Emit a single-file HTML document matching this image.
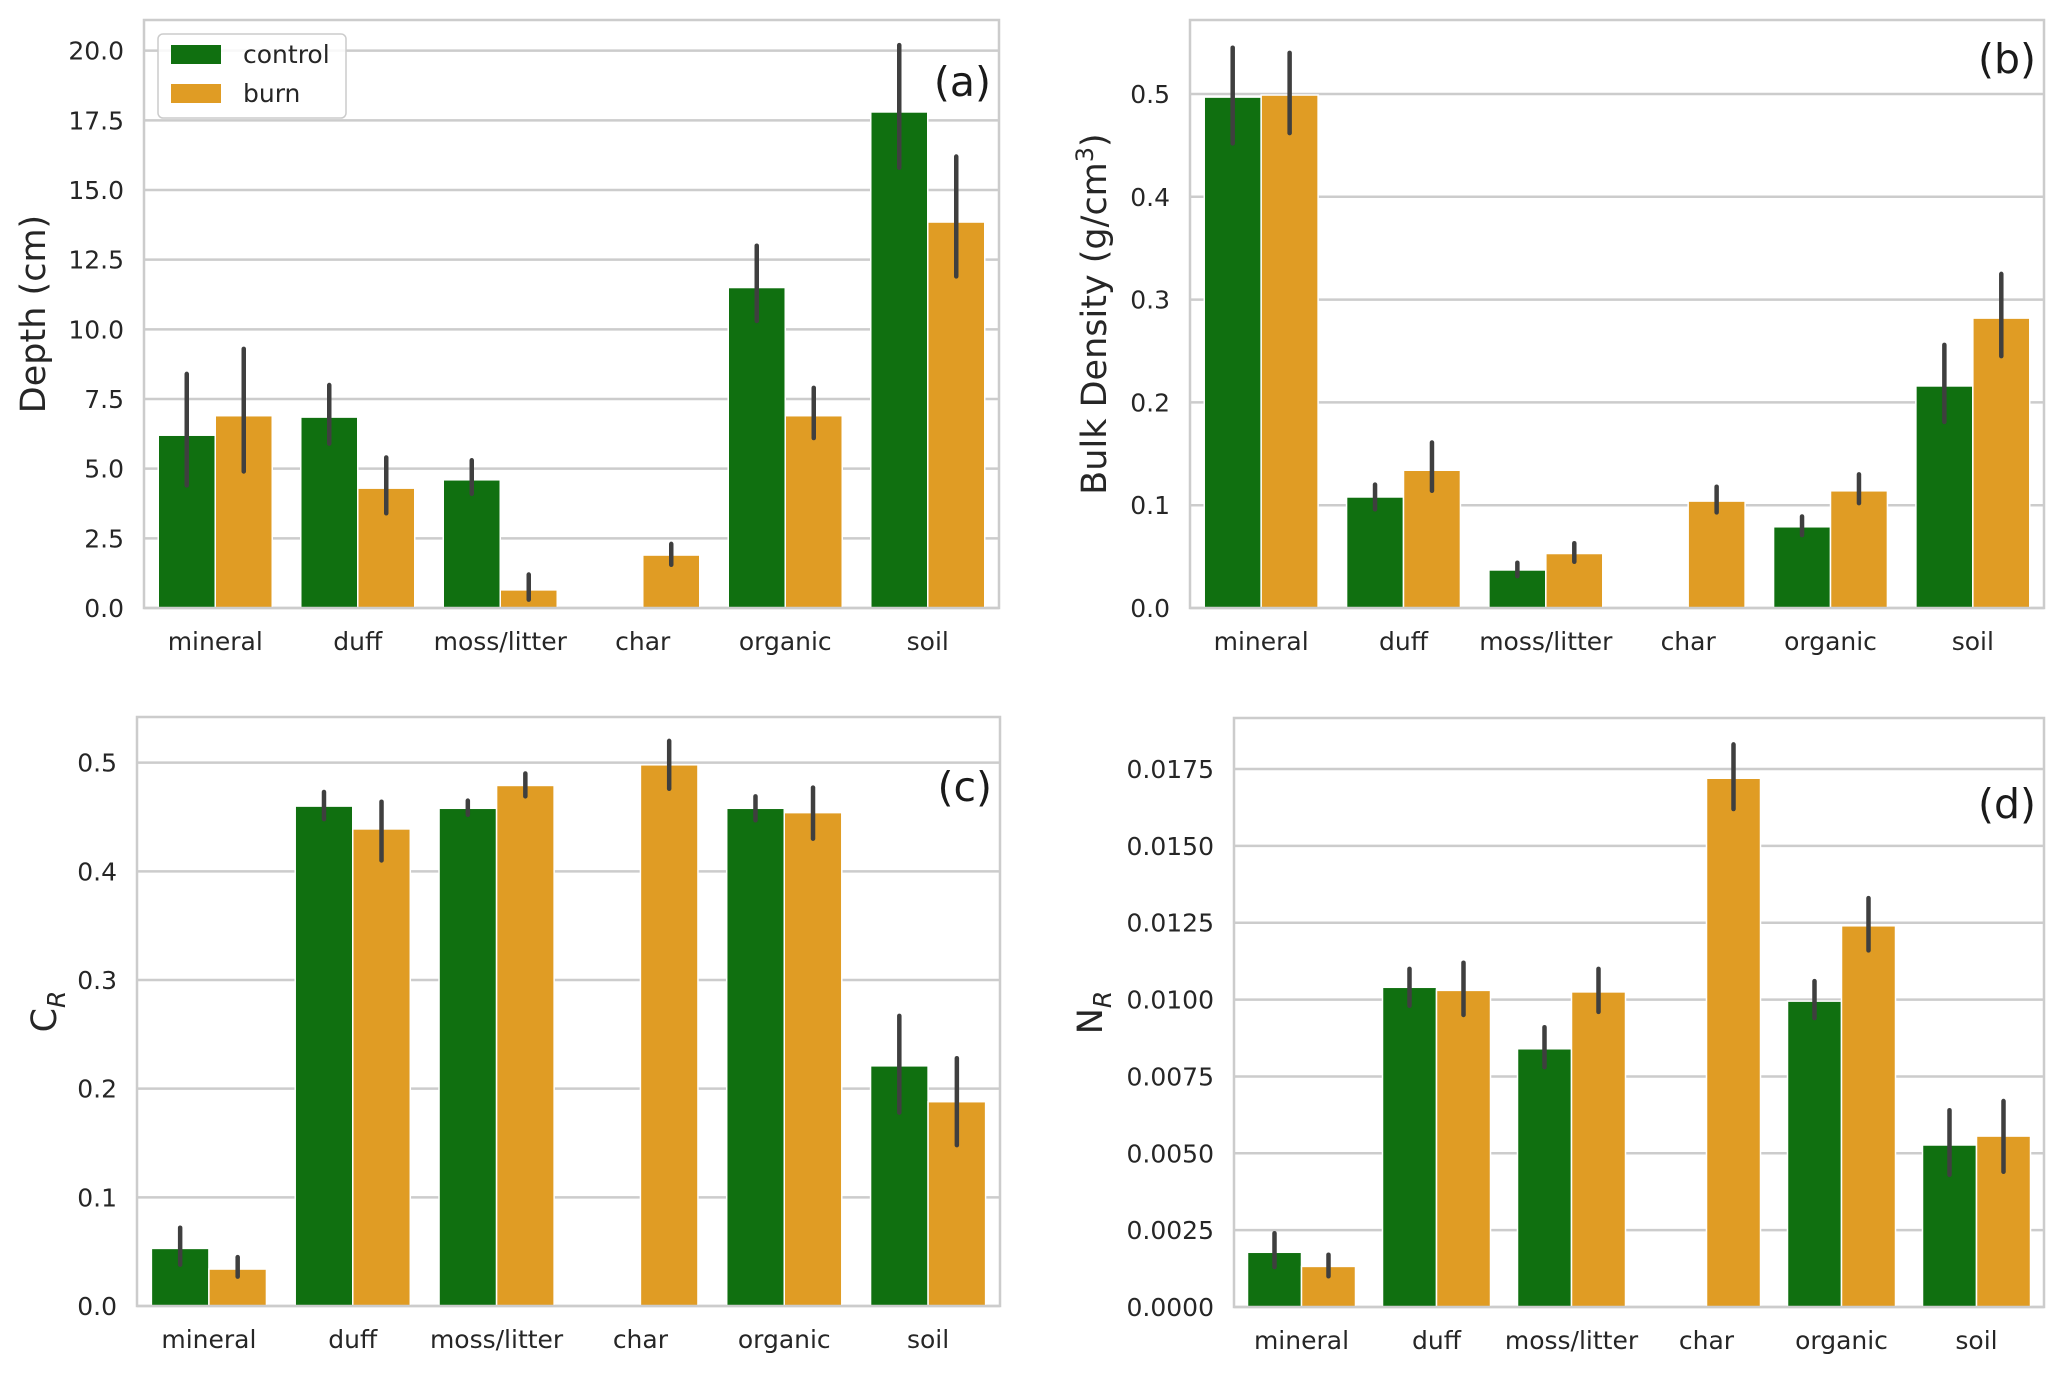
<!DOCTYPE html>
<html><head><meta charset="utf-8">
<style>
html,body{margin:0;padding:0;background:#fff;}
svg{display:block;font-family:"DejaVu Sans","Liberation Sans",sans-serif;}
</style></head>
<body>
<svg id="fig" width="2067" height="1373" viewBox="0 0 2067 1373" xmlns="http://www.w3.org/2000/svg"></svg>
<script>
const categories = ["mineral","duff","moss/litter","char","organic","soil"];

const aControl = [6.2, 6.85, 4.6, null, 11.5, 17.8];
const aControlLo = [4.4, 5.9, 4.1, null, 10.3, 15.8];
const aControlHi = [8.4, 8.0, 5.3, null, 13.0, 20.2];
const aBurn = [6.9, 4.3, 0.65, 1.9, 6.9, 13.85];
const aBurnLo = [4.9, 3.4, 0.3, 1.55, 6.1, 11.9];
const aBurnHi = [9.3, 5.4, 1.2, 2.3, 7.9, 16.2];
const aTicks = [0, 2.5, 5, 7.5, 10, 12.5, 15, 17.5, 20];
const aTickLabels = ["0.0","2.5","5.0","7.5","10.0","12.5","15.0","17.5","20.0"];

const bControl = [0.497, 0.108, 0.037, null, 0.079, 0.216];
const bControlLo = [0.452, 0.096, 0.031, null, 0.071, 0.181];
const bControlHi = [0.545, 0.120, 0.044, null, 0.089, 0.256];
const bBurn = [0.499, 0.134, 0.053, 0.104, 0.114, 0.282];
const bBurnLo = [0.462, 0.114, 0.045, 0.093, 0.102, 0.245];
const bBurnHi = [0.540, 0.161, 0.063, 0.118, 0.130, 0.325];
const bTicks = [0, 0.1, 0.2, 0.3, 0.4, 0.5];
const bTickLabels = ["0.0","0.1","0.2","0.3","0.4","0.5"];

const cControl = [0.053, 0.460, 0.458, null, 0.458, 0.221];
const cControlLo = [0.038, 0.448, 0.452, null, 0.447, 0.178];
const cControlHi = [0.072, 0.473, 0.465, null, 0.469, 0.267];
const cBurn = [0.034, 0.439, 0.479, 0.498, 0.454, 0.188];
const cBurnLo = [0.027, 0.410, 0.469, 0.476, 0.430, 0.148];
const cBurnHi = [0.045, 0.464, 0.490, 0.520, 0.477, 0.228];
const cTicks = [0, 0.1, 0.2, 0.3, 0.4, 0.5];
const cTickLabels = ["0.0","0.1","0.2","0.3","0.4","0.5"];

const dControl = [0.00178, 0.0104, 0.0084, null, 0.00995, 0.00527];
const dControlLo = [0.0013, 0.0098, 0.0078, null, 0.0094, 0.0043];
const dControlHi = [0.0024, 0.0110, 0.0091, null, 0.0106, 0.0064];
const dBurn = [0.00132, 0.0103, 0.01025, 0.0172, 0.0124, 0.00556];
const dBurnLo = [0.0010, 0.0095, 0.0096, 0.0162, 0.0116, 0.0044];
const dBurnHi = [0.0017, 0.0112, 0.0110, 0.0183, 0.0133, 0.0067];
const dTicks = [0, 0.0025, 0.005, 0.0075, 0.01, 0.0125, 0.015, 0.0175];
const dTickLabels = ["0.0000","0.0025","0.0050","0.0075","0.0100","0.0125","0.0150","0.0175"];

const NS = "http://www.w3.org/2000/svg";
const svg = document.getElementById("fig");
function mk(tag, attrs, parent){
  const e = document.createElementNS(NS, tag);
  for (const k in attrs) e.setAttribute(k, attrs[k]);
  (parent||svg).appendChild(e);
  return e;
}
const GREEN = "#107010", ORANGE = "#e09c24", GRID = "#cccccc", TXT = "#262626";

function panel(p){
  const g = mk("g", {});
  
  
  const y = v => p.bottom - (v / p.max) * (p.bottom - p.top);
  const band = (p.right - p.left) / categories.length;
  const xc = i => p.left + band * (i + 0.5);
  p.ticks.forEach((t, i) => {
    const gl = mk("line", {x1:p.left, x2:p.right, y1:y(t), y2:y(t), stroke:GRID, "stroke-width":2.5}, g);
    
    
    const tl = mk("text", {x:p.left - 20, y:y(t) + 9, "text-anchor":"end", "font-size":25, fill:TXT}, g);
    tl.textContent = p.tickLabels[i];
    
    
  });
  const bw = band * 0.4;
  const series = [
    {vals:p.control, lo:p.cLo, hi:p.cHi, color:GREEN, off:-1, name:"control"},
    {vals:p.burn, lo:p.bLo, hi:p.bHi, color:ORANGE, off:0, name:"burn"}
  ];
  series.forEach(s => {
    s.vals.forEach((v, i) => {
      if (v === null) return;
      const x0 = xc(i) + s.off * bw;
      const r = mk("rect", {x:x0, y:y(v), width:bw, height:y(0) - y(v), fill:s.color, stroke:"#ffffff", "stroke-width":1.5}, g);
      
      
    });
  });
  series.forEach(s => {
    s.vals.forEach((v, i) => {
      if (v === null) return;
      const cx = xc(i) + s.off * bw + bw / 2;
      const e = mk("line", {x1:cx, x2:cx, y1:y(s.lo[i]), y2:y(s.hi[i]), stroke:"#3f3f3f", "stroke-width":4.5, "stroke-linecap":"round"}, g);
      
      
    });
  });
  const fr = mk("rect", {x:p.left, y:p.top, width:p.right - p.left, height:p.bottom - p.top, fill:"none", stroke:GRID, "stroke-width":2.5}, g);
  
  
  categories.forEach((c, i) => {
    const t = mk("text", {x:xc(i), y:p.bottom + 42, "text-anchor":"middle", "font-size":25, fill:TXT}, g);
    t.textContent = c;
    
    
  });
  const yl = mk("text", {x:0, y:0, "text-anchor":"middle", "font-size":35, fill:TXT,
    transform:"translate(" + p.ylx + "," + ((p.top + p.bottom) / 2) + ") rotate(-90)"}, g);
  yl.innerHTML = p.ylabel;
  
  
  const pl = mk("text", {x:p.right - 8, y:p.lety + 14, "text-anchor":"end", "font-size":41, fill:"#1a1a1a"}, g);
  pl.textContent = "(" + p.id + ")";
  
  
  return g;
}

panel({id:"a", left:144, right:999, top:20, bottom:608, max:21.1, ticks:aTicks, tickLabels:aTickLabels,
  control:aControl, cLo:aControlLo, cHi:aControlHi, burn:aBurn, bLo:aBurnLo, bHi:aBurnHi,
  ylx:45, ylabel:"Depth (cm)", lety:82});
panel({id:"b", left:1190, right:2044, top:20, bottom:608, max:0.572, ticks:bTicks, tickLabels:bTickLabels,
  control:bControl, cLo:bControlLo, cHi:bControlHi, burn:bBurn, bLo:bBurnLo, bHi:bBurnHi,
  ylx:1106, ylabel:'Bulk Density (g/cm<tspan dy="-13" font-size="24">3</tspan><tspan dy="13">)</tspan>', lety:59});
panel({id:"c", left:137, right:1000, top:717, bottom:1306, max:0.542, ticks:cTicks, tickLabels:cTickLabels,
  control:cControl, cLo:cControlLo, cHi:cControlHi, burn:cBurn, bLo:cBurnLo, bHi:cBurnHi,
  ylx:56, ylabel:'C<tspan font-size="25" font-style="italic" dy="9">R</tspan>', lety:787});
panel({id:"d", left:1234, right:2044, top:718, bottom:1307, max:0.01916, ticks:dTicks, tickLabels:dTickLabels,
  control:dControl, cLo:dControlLo, cHi:dControlHi, burn:dBurn, bLo:dBurnLo, bHi:dBurnHi,
  ylx:1102, ylabel:'N<tspan font-size="25" font-style="italic" dy="9">R</tspan>', lety:804});

const lg = mk("g", {});


const lb = mk("rect", {x:158, y:34, width:188, height:84, rx:5, fill:"#ffffff", "fill-opacity":0.85, stroke:"#cccccc", "stroke-width":1.5}, lg);


[["control", GREEN, 55], ["burn", ORANGE, 94]].forEach(e => {
  const r = mk("rect", {x:171, y:e[2] - 10, width:50, height:19, fill:e[1]}, lg);
  
  
  const t = mk("text", {x:243, y:e[2] + 8, "font-size":25, fill:TXT}, lg);
  t.textContent = e[0];
  
  
});
</script>
</body></html>
